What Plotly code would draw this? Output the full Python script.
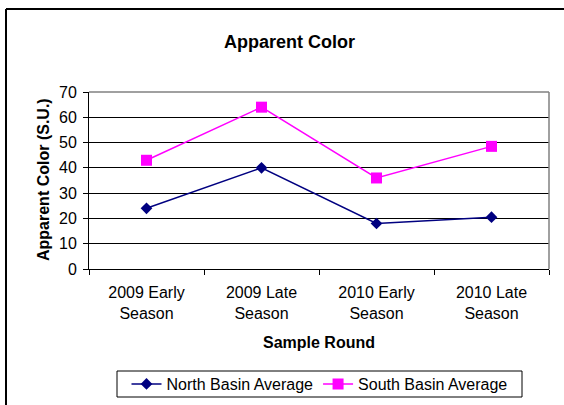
import plotly.graph_objects as go

categories = ["2009 Early<br>Season", "2009 Late<br>Season", "2010 Early<br>Season", "2010 Late<br>Season"]
north_basin = [24, 40, 18, 20.5]
south_basin = [43, 64, 36, 48.5]
y_ticks = [0, 10, 20, 30, 40, 50, 60, 70]

FONT = "Liberation Sans, Arial, sans-serif"
FS = 16

fig = go.Figure()
fig.add_trace(go.Scatter(
    x=categories, y=north_basin, name="North Basin Average", mode="lines+markers",
    line=dict(color="#000080", width=1.5),
    marker=dict(symbol="diamond", size=9, color="#000080"),
))
fig.add_trace(go.Scatter(
    x=categories, y=south_basin, name="South Basin Average", mode="lines+markers",
    line=dict(color="#FF00FF", width=1.5),
    marker=dict(symbol="square", size=11, color="#FF00FF"),
))

L, R, T, B = 89, 15, 92, 136
W, H = 564, 405
pw, ph = W - L - R, H - T - B

def px(x):
    return (x - L) / pw

def py(y):
    return (H - B - y) / ph

fig.update_layout(
    width=W, height=H,
    margin=dict(l=L, r=R, t=T, b=B, pad=0, autoexpand=False),
    paper_bgcolor="white", plot_bgcolor="white",
    font=dict(family=FONT, size=FS, color="black"),
    title=dict(text="<b>Apparent Color</b>", font=dict(size=18, family=FONT, color="black"),
               x=px(289.5), xref="paper", xanchor="center",
               y=1 - 41.5 / H, yref="container", yanchor="middle"),
    xaxis=dict(
        type="category", range=[-0.5, 3.5], tickson="boundaries",
        showgrid=False, showline=True, linecolor="black", linewidth=1,
        ticks="outside", ticklen=5, tickcolor="black", tickwidth=1,
        ticklabelstandoff=9,
        tickfont=dict(size=FS, family=FONT, color="black"),
        zeroline=False, fixedrange=True, automargin=False,
    ),
    yaxis=dict(
        range=[0, 70], tickvals=y_ticks, ticktext=[str(v) for v in y_ticks],
        showgrid=True, gridcolor="black", gridwidth=1,
        showline=True, linecolor="black", linewidth=1,
        ticks="outside", ticklen=5, tickcolor="black", tickwidth=1,
        ticklabelstandoff=3,
        tickfont=dict(size=FS, family=FONT, color="black"),
        zeroline=False, fixedrange=True, automargin=False,
    ),
    showlegend=True,
    legend=dict(
        orientation="h", x=px(319.5), xanchor="center", y=py(367), yanchor="top",
        borderwidth=0, bgcolor="rgba(0,0,0,0)",
        font=dict(size=FS, family=FONT, color="black"),
        itemwidth=30, tracegroupgap=0,
    ),
    annotations=[
        dict(text="<b>Sample Round</b>", x=px(319), y=py(342), xref="paper", yref="paper",
             xanchor="center", yanchor="middle", showarrow=False,
             font=dict(size=16, family=FONT, color="black")),
        dict(text="<b>Apparent Color (S.U.)</b>", x=px(43), y=py(180), xref="paper", yref="paper",
             xanchor="center", yanchor="middle", showarrow=False, textangle=-90,
             font=dict(size=16, family=FONT, color="black")),
    ],
    shapes=[
        dict(type="line", xref="paper", yref="paper", x0=0, x1=1, y0=1, y1=1,
             line=dict(color="#808080", width=1.5)),
        dict(type="line", xref="paper", yref="paper", x0=1, x1=1, y0=0, y1=1,
             line=dict(color="#808080", width=1.5)),
        dict(type="line", xref="paper", yref="paper", x0=px(6), x1=px(W + 5), y0=py(9), y1=py(9),
             line=dict(color="black", width=2)),
        dict(type="line", xref="paper", yref="paper", x0=px(6), x1=px(6), y0=py(9), y1=py(H + 5),
             line=dict(color="black", width=2)),
        dict(type="rect", xref="paper", yref="paper", x0=px(117), x1=px(522), y0=py(371), y1=py(397),
             line=dict(color="black", width=1), fillcolor="rgba(0,0,0,0)"),
    ],
)

fig.write_html(
    "out.html",
    config={"displayModeBar": False},
    post_script="document.body.style.margin='0';document.body.style.overflow='hidden';",
)
